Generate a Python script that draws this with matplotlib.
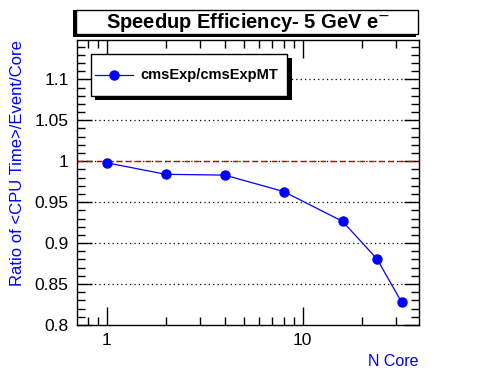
import matplotlib
matplotlib.use("Agg")
import matplotlib.pyplot as plt
from matplotlib.patches import Rectangle
from matplotlib.ticker import FixedLocator, NullFormatter, MultipleLocator

# data
ncore = [1, 2, 4, 8, 16, 24, 32]
ratio = [0.998, 0.984, 0.983, 0.963, 0.9265, 0.8805, 0.828]
xticks = [1, 10]
xticklabels = ["1", "10"]
yticks = [0.8, 0.85, 0.9, 0.95, 1.0, 1.05, 1.1]
yticklabels = ["0.8", "0.85", "0.9", "0.95", "1", "1.05", "1.1"]

plt.rcParams['font.family'] = ['Liberation Sans', 'DejaVu Sans']

W, H = 496, 372
fig = plt.figure(figsize=(W/100, H/100), dpi=100)

def fx(px):
  return px / W
def fy(py):
  return 1 - py / H

ax = fig.add_axes([fx(77), fy(325), fx(419) - fx(77), fy(40) - fy(325)])
ax.set_xscale("log")
ax.set_xlim(0.703, 39.3)
ax.set_ylim(0.8, 1.148)

# grid (y only) and reference line at 1
for yv in yticks[1:]:
  ax.axhline(yv, color="black", lw=0.9, ls=(0, (1, 2.5)), zorder=1)
ax.axhline(1.0, color="#cc0000", lw=1.0, ls=(0, (4, 3)), zorder=2)

ax.plot(ncore, ratio, color="blue", lw=0.9, marker="o", ms=6.5, mec="blue", mfc="blue", zorder=3)

ax.set_xticks(xticks)
ax.set_xticklabels(xticklabels)
minors = [0.8, 0.9, 2, 3, 4, 5, 6, 7, 8, 9, 20, 30]
ax.xaxis.set_minor_locator(FixedLocator(minors))
ax.xaxis.set_minor_formatter(NullFormatter())
ax.set_yticks(yticks)
ax.set_yticklabels(yticklabels)
ax.yaxis.set_minor_locator(MultipleLocator(0.01))

ax.tick_params(which="both", direction="in", top=True, right=True, labelsize=12.5, width=1, pad=6)
ax.tick_params(which="major", length=11)
ax.tick_params(which="minor", length=6)
ax.tick_params(axis="x", which="major", length=13)
for s in ax.spines.values():
  s.set_linewidth(1)

ax.set_xlabel("N Core", color="blue", fontsize=11.5, loc="right", labelpad=4)
fig.text(fx(18), fy(40), "Ratio of <CPU Time>/Event/Core", color="blue", fontsize=12,
         rotation=90, ha="center", va="top")

# title box with shadow
fig.patches.append(Rectangle((fx(73), fy(37)), fx(416) - fx(73), fy(10) - fy(37),
                             transform=fig.transFigure, facecolor="black", edgecolor="none"))
fig.patches.append(Rectangle((fx(76), fy(34)), fx(418) - fx(76), fy(10) - fy(34),
                             transform=fig.transFigure, facecolor="white", edgecolor="black", lw=1))
fig.text(fx(248), fy(22), "Speedup Efficiency- 5 GeV e$^{-}$",
         ha="center", va="center", fontsize=14.5, fontweight="bold")

# legend box with shadow
fig.patches.append(Rectangle((fx(95), fy(100)), fx(292) - fx(95), fy(58) - fy(100),
                             transform=fig.transFigure, facecolor="black", edgecolor="none"))
fig.patches.append(Rectangle((fx(91), fy(96)), fx(287) - fx(91), fy(54) - fy(96),
                             transform=fig.transFigure, facecolor="white", edgecolor="black", lw=1))
fig.lines.append(plt.Line2D([fx(95), fx(133)], [fy(75), fy(75)], transform=fig.transFigure,
                            color="blue", lw=0.9))
fig.lines.append(plt.Line2D([fx(114)], [fy(75)], transform=fig.transFigure,
                            color="blue", marker="o", ms=6.5))
fig.text(fx(140), fy(75), "cmsExp/cmsExpMT", ha="left", va="center", fontsize=10.5, fontweight="bold")

fig.savefig("out.png", dpi=100)
